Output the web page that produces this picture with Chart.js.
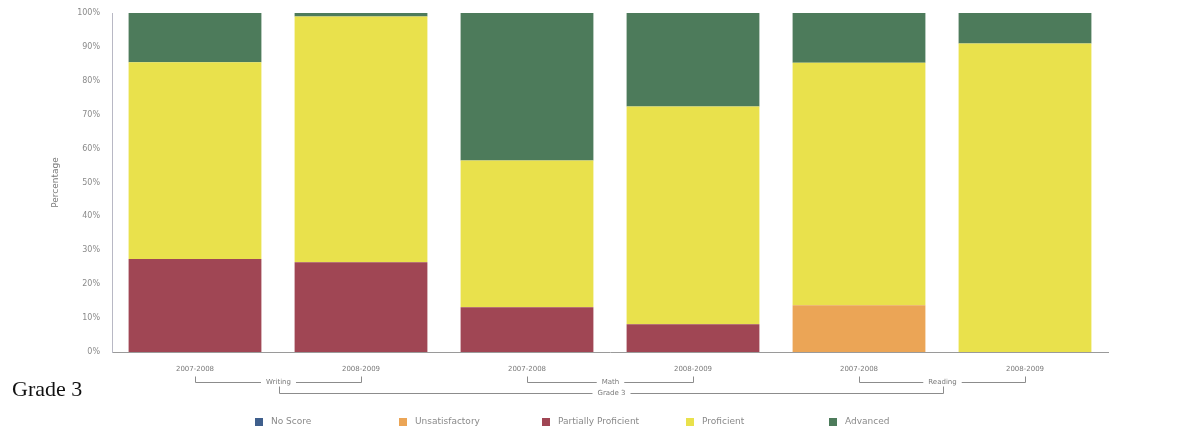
<!DOCTYPE html>
<html>
<head>
<meta charset="utf-8">
<script src="https://cdn.jsdelivr.net/npm/chart.js@4"></script>
<style>
  html, body { margin: 0; padding: 0; background: #fff; }
  #wrap { position: relative; width: 1181px; height: 431px; }
  #grade { position: absolute; left: 12px; top: 376px; font-family: "Liberation Serif", "Times New Roman", serif; font-size: 22px; color: #111; }
</style>
</head>
<body>
<div id="wrap">
  <canvas id="c" width="1181" height="431"></canvas>
  <div id="grade">Grade 3</div>
</div>
<script>
// School years shown per subject, subjects, and the grade they belong to
const years = ['2007-2008', '2008-2009', '2007-2008', '2008-2009', '2007-2008', '2008-2009'];
const subjects = ['Writing', 'Math', 'Reading'];
const gradeLabel = 'Grade 3';

// Percent of students at each performance level
const noScore             = [0, 0, 0, 0, 0, 0];
const unsatisfactory      = [0, 0, 0, 0, 13.8, 0];
const partiallyProficient = [27.4, 26.5, 13.2, 8.2, 0, 0];
const proficient          = [58.1, 72.5, 43.3, 64.2, 71.5, 91.0];
const advanced            = [14.5, 1.0, 43.5, 27.6, 14.7, 9.0];

const yTicks = [0, 10, 20, 30, 40, 50, 60, 70, 80, 90, 100];

const levels = [
  { label: 'No Score',             data: noScore,             color: '#3f5f8c' },
  { label: 'Unsatisfactory',       data: unsatisfactory,      color: '#eba556' },
  { label: 'Partially Proficient', data: partiallyProficient, color: '#a04654' },
  { label: 'Proficient',           data: proficient,          color: '#e9e14c' },
  { label: 'Advanced',             data: advanced,            color: '#4d7b5b' }
];

// Subject brackets under the year labels, then the grade bracket below them
const groupAxis = {
  id: 'groupAxis',
  afterDraw(chart) {
    const ctx = chart.ctx;
    const xs = chart.scales.x;
    const per = years.length / subjects.length;
    ctx.save();
    ctx.strokeStyle = '#8c8c8c';
    ctx.lineWidth = 1;
    ctx.fillStyle = '#7a7a7a';
    ctx.font = '7px "DejaVu Sans", sans-serif';
    ctx.textAlign = 'center';
    ctx.textBaseline = 'middle';

    const y1 = 382.5, t1 = 376.5;
    const mids = [];
    subjects.forEach((s, i) => {
      const a = Math.round(xs.getPixelForValue(i * per)) + 0.5;
      const b = Math.round(xs.getPixelForValue(i * per + per - 1)) + 0.5;
      const m = (a + b) / 2;
      mids.push(m);
      const hw = ctx.measureText(s).width / 2 + 5;
      ctx.beginPath();
      ctx.moveTo(a, t1); ctx.lineTo(a, y1); ctx.lineTo(m - hw, y1);
      ctx.moveTo(m + hw, y1); ctx.lineTo(b, y1); ctx.lineTo(b, t1);
      ctx.stroke();
      ctx.fillText(s, m, y1);
    });

    const y2 = 393.5, t2 = 386.5;
    const a = Math.round(mids[0]) + 0.5, b = Math.round(mids[mids.length - 1]) + 0.5;
    const m = (a + b) / 2;
    const hw = ctx.measureText(gradeLabel).width / 2 + 5;
    ctx.beginPath();
    ctx.moveTo(a, t2); ctx.lineTo(a, y2); ctx.lineTo(m - hw, y2);
    ctx.moveTo(m + hw, y2); ctx.lineTo(b, y2); ctx.lineTo(b, t2);
    ctx.stroke();
    ctx.fillText(gradeLabel, m, y2);
    ctx.restore();
  }
};

// Legend laid out in evenly spaced columns along the bottom
const columnLegend = {
  id: 'columnLegend',
  afterDraw(chart) {
    const ctx = chart.ctx;
    ctx.save();
    ctx.font = '9px "DejaVu Sans", sans-serif';
    ctx.textAlign = 'left';
    ctx.textBaseline = 'middle';
    chart.data.datasets.forEach((ds, i) => {
      const x = 255 + i * 143.5;
      const y = 422;
      ctx.fillStyle = ds.backgroundColor;
      ctx.fillRect(Math.round(x), y - 4, 8, 8);
      ctx.fillStyle = '#8a8a8a';
      ctx.fillText(ds.label, Math.round(x) + 16, y);
    });
    ctx.restore();
  }
};

new Chart(document.getElementById('c'), {
  type: 'bar',
  data: {
    labels: years,
    datasets: levels.map(l => ({
      label: l.label,
      data: l.data,
      backgroundColor: l.color,
      borderWidth: 0,
      barPercentage: 0.8,
      categoryPercentage: 1.0
    }))
  },
  options: {
    responsive: false,
    animation: false,
    devicePixelRatio: 1,
    layout: { padding: { top: 13, right: 73, bottom: 0, left: 0 } },
    plugins: { legend: { display: false }, tooltip: { enabled: false } },
    scales: {
      x: {
        stacked: true,
        grid: { display: false },
        border: { color: '#9a9a9a' },
        ticks: { font: { size: 7, family: '"DejaVu Sans", sans-serif' }, color: '#7a7a7a', padding: 5, maxRotation: 0 },
        afterFit(s) { s.height = 79; }
      },
      y: {
        stacked: true,
        min: 0,
        max: 100,
        afterBuildTicks(s) { s.ticks = yTicks.map(v => ({ value: v })); },
        ticks: { callback: v => v + '%', font: { size: 8, family: '"DejaVu Sans", sans-serif' }, color: '#8a8a8a', padding: 4 },
        grid: { display: false },
        border: { color: '#b8b8c4' },
        title: { display: true, text: 'Percentage', font: { size: 9, family: '"DejaVu Sans", sans-serif' }, color: '#7a7a7a', padding: { top: 50, bottom: 0 } },
        afterFit(s) { s.width = 112; }
      }
    }
  },
  plugins: [groupAxis, columnLegend]
});
</script>
</body>
</html>
